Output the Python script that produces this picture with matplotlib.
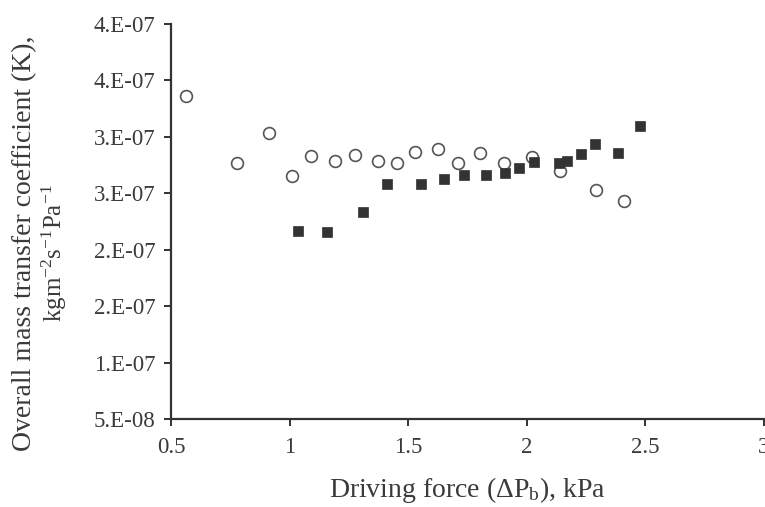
import matplotlib
matplotlib.use('Agg')
import matplotlib.pyplot as plt

plt.rcParams['font.family'] = ['Liberation Serif', 'DejaVu Serif']
plt.rcParams['mathtext.fontset'] = 'custom'
plt.rcParams['mathtext.rm'] = 'Liberation Serif'
plt.rcParams['mathtext.it'] = 'Liberation Serif:italic'

# open circles
circ_x = [0.563, 0.778, 0.913, 1.009, 1.091, 1.191, 1.274, 1.373, 1.454, 1.529,
          1.624, 1.708, 1.801, 1.902, 2.020, 2.141, 2.290, 2.411]
circ_y = [3.36e-7, 2.77e-7, 3.03e-7, 2.65e-7, 2.83e-7, 2.79e-7, 2.84e-7, 2.79e-7,
          2.77e-7, 2.87e-7, 2.89e-7, 2.77e-7, 2.86e-7, 2.77e-7, 2.82e-7, 2.70e-7,
          2.53e-7, 2.43e-7]

# filled squares
sq_x = [1.037, 1.159, 1.309, 1.412, 1.554, 1.652, 1.736, 1.827, 1.907, 1.968,
        2.029, 2.137, 2.171, 2.230, 2.288, 2.383, 2.477]
sq_y = [2.17e-7, 2.16e-7, 2.33e-7, 2.58e-7, 2.58e-7, 2.63e-7, 2.66e-7, 2.66e-7,
        2.68e-7, 2.72e-7, 2.78e-7, 2.77e-7, 2.79e-7, 2.85e-7, 2.94e-7, 2.86e-7,
        3.10e-7]

xticks = [0.5, 1, 1.5, 2, 2.5, 3]
xticklabels = ['0.5', '1', '1.5', '2', '2.5', '3']
yticks = [5e-8, 1e-7, 1.5e-7, 2e-7, 2.5e-7, 3e-7, 3.5e-7, 4e-7]
yticklabels = ['5.E-08', '1.E-07', '2.E-07', '2.E-07', '3.E-07', '3.E-07', '4.E-07', '4.E-07']

W, H = 765, 507
fig = plt.figure(figsize=(W / 100, H / 100), dpi=100)
ax = fig.add_axes([171 / W, 1 - 419 / H, (764 - 171) / W, (419 - 24) / H])

txt = '#3a3a3a'
ax.plot(circ_x, circ_y, 'o', ms=8.5, mfc='white', mec='#555555', mew=1.2, clip_on=False)
ax.plot(sq_x, sq_y, 's', ms=7.2, mfc='#333333', mec='#333333', mew=0.5, clip_on=False)

ax.set_xlim(0.5, 3)
ax.set_ylim(5e-8, 4e-7)
ax.set_xticks(xticks)
ax.set_xticklabels(xticklabels)
ax.set_yticks(yticks)
ax.set_yticklabels(yticklabels)

for s in ['top', 'right']:
    ax.spines[s].set_visible(False)
for s in ['left', 'bottom']:
    ax.spines[s].set_linewidth(1.6)
    ax.spines[s].set_color('#333333')
ax.tick_params(direction='out', length=5, width=1.4, color='#333333',
               labelsize=16.5, labelcolor=txt)
ax.tick_params(axis='x', pad=8)
ax.tick_params(axis='y', pad=6)

fig.text(467 / W, 1 - 497 / H, r'Driving force ($\Delta$P$_\mathrm{b}$), kPa',
         ha='center', va='baseline', fontsize=20, color=txt)
fig.text(25 / W, 1 - 243 / H, 'Overall mass transfer coefficient (K),',
         rotation=90, ha='center', va='center', fontsize=20, color=txt)
fig.text(54 / W, 1 - 253 / H, r'kgm$^{-2}$s$^{-1}$Pa$^{-1}$',
         rotation=90, ha='center', va='center', fontsize=18, color=txt)

fig.savefig('out.png', dpi=100)
